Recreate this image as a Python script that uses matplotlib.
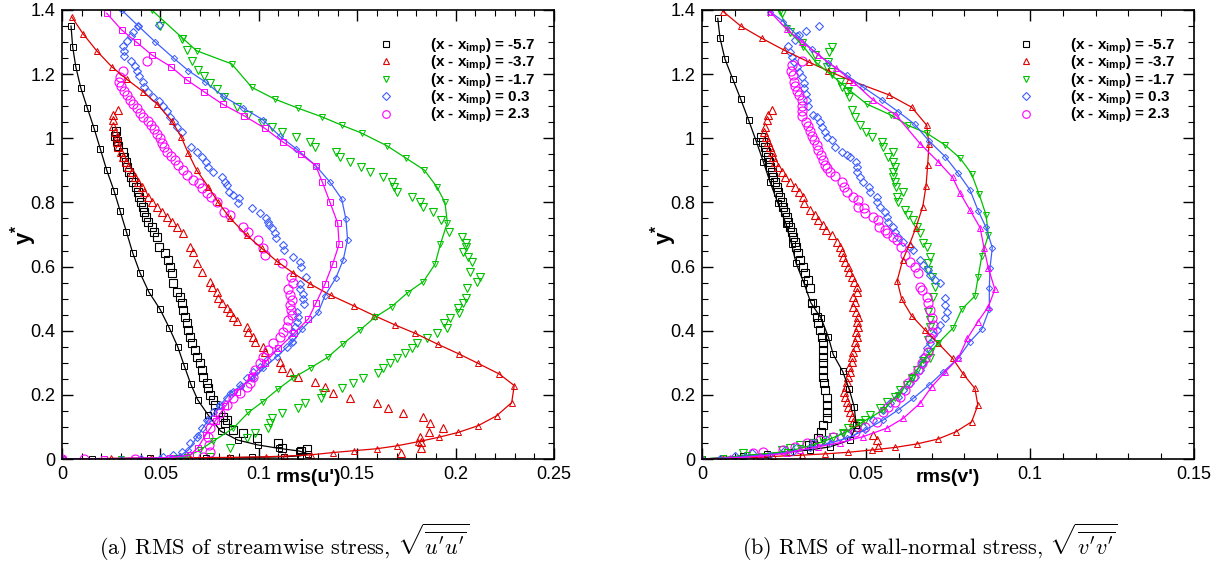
import matplotlib.pyplot as plt
from matplotlib.lines import Line2D
from matplotlib.ticker import MultipleLocator, FuncFormatter

plt.rcParams['font.family'] = ['Liberation Sans', 'DejaVu Sans']
plt.rcParams['mathtext.fontset'] = 'custom'
plt.rcParams['mathtext.rm'] = 'Liberation Sans:bold'
plt.rcParams['mathtext.it'] = 'Liberation Sans:bold'
plt.rcParams['mathtext.bf'] = 'Liberation Sans:bold'

cases = ['-5.7', '-3.7', '-1.7', '0.3', '2.3']
colors = ['#000000', '#e00000', '#00c000', '#3f5fff', '#ff00ff']

# ---------------- rms(u') : simulation (lines) ----------------
u_sim_x_57 = [0.0046, 0.0054, 0.0070, 0.0095, 0.0129, 0.0163, 0.0195, 0.0227, 0.0264, 0.0295, 0.0327, 0.0359,
              0.0396, 0.0441, 0.0498, 0.0545, 0.0588, 0.0621, 0.0654, 0.0690, 0.0743, 0.0806, 0.0893, 0.0994,
              0.1104, 0.1204, 0.1250, 0.1210, 0.1130, 0.0965, 0.0854, 0.0730, 0.0590, 0.0447, 0.0152, 0.0]
u_sim_y_57 = [1.350, 1.286, 1.223, 1.158, 1.094, 1.031, 0.966, 0.901, 0.837, 0.774, 0.709, 0.643,
              0.581, 0.521, 0.467, 0.409, 0.350, 0.291, 0.234, 0.184, 0.137, 0.087, 0.059, 0.044,
              0.033, 0.025, 0.016, 0.010, 0.007, 0.005, 0.004, 0.004, 0.003, 0.002, 0.001, 0.0]
u_sim_x_37 = [0.0049, 0.0108, 0.0176, 0.0253, 0.0329, 0.0413, 0.0484, 0.0557, 0.0605, 0.0642, 0.0684, 0.0743,
              0.0794, 0.0854, 0.0938, 0.1015, 0.1091, 0.1172, 0.1260, 0.1367, 0.1484, 0.1587, 0.1692, 0.1794,
              0.1909, 0.2019, 0.2115, 0.2222, 0.2298, 0.2285, 0.2209, 0.2115, 0.2014, 0.1916, 0.1810, 0.1701,
              0.1599, 0.1485, 0.1376, 0.1265, 0.1133, 0.1037, 0.085, 0.065, 0.045, 0.025, 0.0]
u_sim_y_37 = [1.379, 1.325, 1.273, 1.223, 1.184, 1.145, 1.106, 1.055, 1.005, 0.953, 0.901, 0.849,
              0.800, 0.751, 0.698, 0.657, 0.617, 0.581, 0.546, 0.510, 0.477, 0.447, 0.418, 0.392,
              0.358, 0.327, 0.298, 0.265, 0.229, 0.176, 0.135, 0.104, 0.083, 0.068, 0.054, 0.041,
              0.032, 0.026, 0.020, 0.013, 0.009, 0.007, 0.005, 0.004, 0.003, 0.002, 0.0]
u_sim_x_17 = [0.0456, 0.0613, 0.0684, 0.0862, 0.0964, 0.1082, 0.1199, 0.1320, 0.1421, 0.1523, 0.1650, 0.1748,
              0.1841, 0.1904, 0.1946, 0.1958, 0.1923, 0.1895, 0.1836, 0.1757, 0.1675, 0.1590, 0.1514, 0.1426,
              0.1350, 0.1265, 0.1174, 0.1096, 0.1021, 0.0947, 0.0870, 0.0769, 0.0701, 0.0634, 0.0566, 0.030, 0.0]
u_sim_y_17 = [1.400, 1.312, 1.273, 1.232, 1.159, 1.122, 1.094, 1.067, 1.041, 1.016, 0.977, 0.938,
              0.901, 0.849, 0.800, 0.737, 0.670, 0.607, 0.553, 0.519, 0.475, 0.442, 0.402, 0.358,
              0.317, 0.285, 0.253, 0.217, 0.179, 0.145, 0.096, 0.056, 0.028, 0.007, 0.002, 0.001, 0.0]
u_sim_x_03 = [0.0303, 0.0388, 0.0473, 0.0569, 0.0642, 0.0727, 0.0817, 0.0921, 0.1020, 0.1108, 0.1191, 0.1289,
              0.1362, 0.1421, 0.1443, 0.1451, 0.1429, 0.1392, 0.1336, 0.1302, 0.1218, 0.1172, 0.1091, 0.1023,
              0.0972, 0.0910, 0.0854, 0.0800, 0.0743, 0.0693, 0.0642, 0.0600, 0.0500, 0.0300, 0.0]
u_sim_y_03 = [1.400, 1.350, 1.301, 1.249, 1.211, 1.176, 1.132, 1.094, 1.058, 1.006, 0.967, 0.915,
              0.863, 0.811, 0.747, 0.684, 0.621, 0.565, 0.509, 0.457, 0.404, 0.365, 0.319, 0.283,
              0.252, 0.228, 0.205, 0.165, 0.122, 0.075, 0.028, 0.010, 0.003, 0.001, 0.0]
u_sim_x_23 = [0.0227, 0.0303, 0.0380, 0.0456, 0.0554, 0.0634, 0.0722, 0.0817, 0.0926, 0.1031, 0.1121, 0.1213,
              0.1289, 0.1323, 0.1362, 0.1401, 0.1408, 0.1375, 0.1336, 0.1291, 0.1252, 0.1180, 0.1100, 0.1030,
              0.0960, 0.0890, 0.0830, 0.0780, 0.0730, 0.0690, 0.0650, 0.0550, 0.0215, 0.0]
u_sim_y_23 = [1.390, 1.338, 1.299, 1.260, 1.223, 1.182, 1.145, 1.106, 1.070, 1.031, 0.989, 0.951,
              0.915, 0.863, 0.800, 0.735, 0.670, 0.607, 0.545, 0.487, 0.437, 0.392, 0.345, 0.300,
              0.255, 0.210, 0.165, 0.120, 0.075, 0.035, 0.012, 0.004, 0.001, 0.0]

# ---------------- rms(u') : experiment (symbols) ----------------
u_exp_x_57 = [0.0274, 0.0269, 0.0281, 0.0286, 0.0311, 0.0317, 0.0325, 0.0332, 0.0342, 0.0351, 0.0362, 0.0376,
              0.0385, 0.0393, 0.0400, 0.0410, 0.0418, 0.0427, 0.0439, 0.0456, 0.0467, 0.0481, 0.0494, 0.0523,
              0.0540, 0.0549, 0.0557, 0.0566, 0.0583, 0.0600, 0.0608, 0.0616, 0.0625, 0.0634, 0.0642, 0.0650,
              0.0659, 0.0676, 0.0684, 0.0701, 0.0710, 0.0718, 0.0735, 0.0743, 0.0752, 0.0769, 0.0777, 0.0794,
              0.0820, 0.0837, 0.0828, 0.0870, 0.0921, 0.0989, 0.1099, 0.1116, 0.1213, 0.1246]
u_exp_y_57 = [1.023, 1.007, 0.992, 0.977, 0.958, 0.943, 0.927, 0.911, 0.896, 0.880, 0.865, 0.849,
              0.833, 0.818, 0.802, 0.787, 0.771, 0.756, 0.740, 0.724, 0.709, 0.693, 0.662, 0.641,
              0.621, 0.600, 0.579, 0.548, 0.522, 0.506, 0.485, 0.465, 0.444, 0.423, 0.402, 0.381,
              0.361, 0.340, 0.319, 0.298, 0.278, 0.257, 0.236, 0.220, 0.200, 0.184, 0.168, 0.147,
              0.132, 0.122, 0.111, 0.090, 0.080, 0.065, 0.049, 0.033, 0.024, 0.031]
u_exp_x_37 = [0.0286, 0.0261, 0.0258, 0.0261, 0.0269, 0.0278, 0.0281, 0.0286, 0.0298, 0.0311, 0.0325, 0.0337,
              0.0354, 0.0371, 0.0388, 0.0405, 0.0418, 0.0439, 0.0456, 0.0481, 0.0507, 0.0532, 0.0557, 0.0583,
              0.0616, 0.0650, 0.0664, 0.0684, 0.0710, 0.0752, 0.0761, 0.0786, 0.0794, 0.0811, 0.0837, 0.0854,
              0.0870, 0.0888, 0.0938, 0.0947, 0.0972, 0.0981, 0.1023, 0.1031, 0.1108, 0.1116, 0.1159, 0.1201,
              0.1286, 0.1336, 0.1379, 0.1463, 0.1599, 0.1658, 0.1731, 0.1836, 0.1870, 0.1934, 0.1865, 0.1819,
              0.1823, 0.1823, 0.1723]
u_exp_y_37 = [1.088, 1.073, 1.057, 1.038, 1.021, 1.005, 0.989, 0.974, 0.958, 0.943, 0.927, 0.911,
              0.896, 0.880, 0.865, 0.849, 0.833, 0.818, 0.802, 0.787, 0.771, 0.756, 0.740, 0.724,
              0.704, 0.662, 0.646, 0.610, 0.584, 0.553, 0.537, 0.522, 0.501, 0.486, 0.470, 0.459,
              0.442, 0.431, 0.413, 0.397, 0.381, 0.366, 0.350, 0.335, 0.303, 0.285, 0.270, 0.255,
              0.239, 0.224, 0.207, 0.191, 0.176, 0.160, 0.144, 0.130, 0.113, 0.098, 0.083, 0.068,
              0.052, 0.033, 0.020]
u_exp_x_17 = [0.0498, 0.0608, 0.0634, 0.0659, 0.0693, 0.0723, 0.0752, 0.0786, 0.0825, 0.0888, 0.0947, 0.1015,
              0.1066, 0.1116, 0.1189, 0.1260, 0.1286, 0.1392, 0.1413, 0.1463, 0.1519, 0.1565, 0.1630, 0.1675,
              0.1687, 0.1701, 0.1777, 0.1819, 0.1836, 0.1884, 0.1924, 0.1968, 0.2031, 0.2053, 0.2053, 0.2039,
              0.2065, 0.2082, 0.2073, 0.2124, 0.2107, 0.2056, 0.2053, 0.2039, 0.2014, 0.2017, 0.1972, 0.1941,
              0.1955, 0.1904, 0.1853, 0.1802, 0.1777, 0.1743, 0.1701, 0.1667, 0.1633, 0.1604, 0.1531, 0.1480,
              0.1421, 0.1325, 0.1315, 0.1235, 0.1198, 0.1116, 0.1066, 0.1057, 0.1048, 0.0981, 0.0938, 0.0854,
              0.0752]
u_exp_y_17 = [1.350, 1.309, 1.275, 1.242, 1.213, 1.194, 1.173, 1.153, 1.130, 1.099, 1.073, 1.047,
              1.034, 1.019, 1.005, 0.989, 0.974, 0.956, 0.943, 0.925, 0.911, 0.894, 0.878, 0.865,
              0.849, 0.832, 0.816, 0.800, 0.785, 0.769, 0.745, 0.709, 0.691, 0.674, 0.660, 0.646,
              0.631, 0.613, 0.582, 0.568, 0.551, 0.534, 0.503, 0.487, 0.472, 0.456, 0.441, 0.425,
              0.409, 0.392, 0.376, 0.361, 0.345, 0.330, 0.314, 0.298, 0.283, 0.267, 0.252, 0.236,
              0.220, 0.205, 0.189, 0.174, 0.158, 0.143, 0.127, 0.111, 0.096, 0.080, 0.065, 0.033,
              0.007]
u_exp_x_03 = [0.0494, 0.0388, 0.0359, 0.0351, 0.0329, 0.0311, 0.0315, 0.0315, 0.0349, 0.0371, 0.0380, 0.0393,
              0.0410, 0.0418, 0.0435, 0.0464, 0.0494, 0.0512, 0.0532, 0.0549, 0.0569, 0.0583, 0.0608, 0.0654,
              0.0684, 0.0710, 0.0732, 0.0740, 0.0766, 0.0811, 0.0828, 0.0837, 0.0850, 0.0870, 0.0901, 0.0896,
              0.0964, 0.1006, 0.1035, 0.1048, 0.1053, 0.1066, 0.1082, 0.1087, 0.1124, 0.1130, 0.1175, 0.1209,
              0.1213, 0.1238, 0.1209, 0.1209, 0.1226, 0.1226, 0.1231, 0.1193, 0.1201, 0.1193, 0.1184, 0.1175,
              0.1167, 0.1167, 0.1142, 0.1091, 0.1040, 0.1006, 0.0972, 0.0938, 0.0904, 0.0870, 0.0837, 0.0803,
              0.0769, 0.0735, 0.0710, 0.0684, 0.0650, 0.0608, 0.0566, 0.0515, 0.0400]
u_exp_y_03 = [1.353, 1.350, 1.332, 1.319, 1.304, 1.288, 1.273, 1.257, 1.242, 1.226, 1.211, 1.194,
              1.176, 1.159, 1.145, 1.130, 1.117, 1.101, 1.085, 1.067, 1.052, 1.036, 1.021, 0.974,
              0.958, 0.943, 0.927, 0.911, 0.896, 0.880, 0.865, 0.854, 0.833, 0.823, 0.813, 0.797,
              0.782, 0.766, 0.751, 0.740, 0.730, 0.719, 0.704, 0.688, 0.667, 0.652, 0.629, 0.613,
              0.598, 0.567, 0.546, 0.529, 0.514, 0.498, 0.483, 0.459, 0.444, 0.428, 0.413, 0.397,
              0.381, 0.366, 0.350, 0.335, 0.309, 0.288, 0.272, 0.252, 0.231, 0.210, 0.189, 0.168,
              0.147, 0.122, 0.096, 0.070, 0.049, 0.023, 0.012, 0.005, 0.0]
u_exp_x_23 = [0.0430, 0.0311, 0.0295, 0.0291, 0.0298, 0.0315, 0.0329, 0.0346, 0.0362, 0.0380, 0.0396, 0.0413,
              0.0435, 0.0451, 0.0467, 0.0484, 0.0498, 0.0510, 0.0520, 0.0532, 0.0552, 0.0574, 0.0591, 0.0616,
              0.0637, 0.0667, 0.0698, 0.0710, 0.0735, 0.0756, 0.0786, 0.0823, 0.0854, 0.0918, 0.0947, 0.0997,
              0.1023, 0.1032, 0.1116, 0.1164, 0.1172, 0.1150, 0.1159, 0.1167, 0.1159, 0.1164, 0.1167, 0.1150,
              0.1142, 0.1124, 0.1108, 0.1074, 0.1048, 0.1023, 0.1006, 0.0981, 0.0972, 0.0955, 0.0938, 0.0904,
              0.0870, 0.0837, 0.0803, 0.0769, 0.0752, 0.0743, 0.0748, 0.0752, 0.0718, 0.0371, 0.0113, 0.0]
u_exp_y_23 = [1.241, 1.210, 1.192, 1.176, 1.163, 1.148, 1.135, 1.119, 1.107, 1.094, 1.080, 1.067,
              1.055, 1.041, 1.028, 1.013, 1.000, 0.986, 0.974, 0.958, 0.945, 0.932, 0.917, 0.901,
              0.886, 0.870, 0.860, 0.844, 0.829, 0.816, 0.800, 0.771, 0.761, 0.724, 0.709, 0.683,
              0.657, 0.636, 0.610, 0.567, 0.548, 0.529, 0.511, 0.496, 0.480, 0.465, 0.449, 0.433,
              0.413, 0.397, 0.381, 0.361, 0.340, 0.319, 0.298, 0.278, 0.257, 0.236, 0.225, 0.205,
              0.189, 0.168, 0.143, 0.122, 0.096, 0.070, 0.044, 0.023, 0.007, 0.0, 0.0, 0.0]

# ---------------- rms(v') : simulation (lines) ----------------
v_sim_x_57 = [0.0048, 0.0055, 0.0070, 0.0094, 0.0118, 0.0142, 0.0165, 0.0187, 0.0207, 0.0231, 0.0256, 0.0273,
              0.0287, 0.0311, 0.0332, 0.0363, 0.0385, 0.0400, 0.0429, 0.0449, 0.0464, 0.0470, 0.0451, 0.0390,
              0.0329, 0.0268, 0.0197, 0.0126, 0.0065, 0.0]
v_sim_y_57 = [1.374, 1.312, 1.247, 1.184, 1.122, 1.057, 0.992, 0.927, 0.865, 0.799, 0.733, 0.670,
              0.610, 0.548, 0.487, 0.439, 0.381, 0.326, 0.273, 0.217, 0.163, 0.106, 0.059, 0.038,
              0.028, 0.023, 0.016, 0.010, 0.004, 0.0]
v_sim_x_37 = [0.0065, 0.0118, 0.0182, 0.0250, 0.0327, 0.0383, 0.0449, 0.0571, 0.0639, 0.0685, 0.0692, 0.0688,
              0.0683, 0.0673, 0.0652, 0.0633, 0.0612, 0.0595, 0.0609, 0.0639, 0.0680, 0.0720, 0.0764, 0.0797,
              0.0832, 0.0841, 0.0822, 0.0774, 0.0719, 0.0655, 0.0588, 0.0517, 0.0446, 0.0375, 0.0304, 0.0217,
              0.0162, 0.0065, 0.0]
v_sim_y_37 = [1.395, 1.350, 1.312, 1.275, 1.237, 1.211, 1.182, 1.135, 1.097, 1.041, 0.981, 0.917,
              0.851, 0.787, 0.721, 0.670, 0.621, 0.556, 0.498, 0.447, 0.402, 0.361, 0.314, 0.264,
              0.220, 0.168, 0.116, 0.085, 0.062, 0.047, 0.036, 0.028, 0.021, 0.016, 0.012, 0.008,
              0.004, 0.002, 0.0]
v_sim_x_17 = [0.0238, 0.0258, 0.0309, 0.0350, 0.0395, 0.0448, 0.0502, 0.0575, 0.0629, 0.0685, 0.0741, 0.0787,
              0.0822, 0.0845, 0.0866, 0.0873, 0.0853, 0.0842, 0.0832, 0.0792, 0.0766, 0.0720, 0.0675, 0.0639,
              0.0598, 0.0553, 0.0482, 0.0431, 0.0370, 0.0299, 0.0258, 0.0136, 0.0065, 0.0]
v_sim_y_17 = [1.395, 1.343, 1.286, 1.234, 1.197, 1.151, 1.107, 1.073, 1.040, 1.016, 0.979, 0.938,
              0.889, 0.825, 0.761, 0.698, 0.633, 0.568, 0.508, 0.467, 0.409, 0.361, 0.309, 0.252,
              0.200, 0.153, 0.111, 0.080, 0.054, 0.033, 0.023, 0.011, 0.004, 0.0]
v_sim_x_03 = [0.0207, 0.0248, 0.0289, 0.0334, 0.0385, 0.0441, 0.0492, 0.0548, 0.0598, 0.0648, 0.0691, 0.0741,
              0.0781, 0.0817, 0.0842, 0.0866, 0.0885, 0.0878, 0.0876, 0.0876, 0.0853, 0.0817, 0.0781, 0.0736,
              0.0693, 0.0644, 0.0598, 0.0553, 0.0497, 0.0441, 0.0390, 0.0329, 0.0278, 0.0207, 0.0131, 0.0055, 0.0]
v_sim_y_03 = [1.395, 1.364, 1.322, 1.278, 1.236, 1.197, 1.159, 1.120, 1.083, 1.044, 0.993, 0.943,
              0.891, 0.839, 0.774, 0.722, 0.659, 0.595, 0.532, 0.467, 0.405, 0.366, 0.314, 0.272,
              0.231, 0.189, 0.153, 0.122, 0.090, 0.065, 0.049, 0.033, 0.023, 0.014, 0.008, 0.002, 0.0]
v_sim_x_23 = [0.0207, 0.0258, 0.0304, 0.0355, 0.0409, 0.0461, 0.0522, 0.0591, 0.0666, 0.0720, 0.0764, 0.0787,
              0.0817, 0.0848, 0.0860, 0.0873, 0.0893, 0.0873, 0.0841, 0.0809, 0.0781, 0.0741, 0.0700, 0.0665,
              0.0614, 0.0563, 0.0492, 0.0421, 0.0355, 0.0299, 0.0258, 0.0177, 0.0085, 0.0]
v_sim_y_23 = [1.395, 1.340, 1.301, 1.260, 1.218, 1.176, 1.119, 1.073, 0.982, 0.927, 0.878, 0.829,
              0.776, 0.721, 0.657, 0.595, 0.529, 0.475, 0.428, 0.376, 0.314, 0.271, 0.225, 0.174,
              0.127, 0.096, 0.070, 0.051, 0.038, 0.028, 0.018, 0.009, 0.003, 0.0]

# ---------------- rms(v') : experiment (symbols) ----------------
v_exp_x_57 = [0.0179, 0.0185, 0.0192, 0.0195, 0.0202, 0.0205, 0.0207, 0.0213, 0.0217, 0.0223, 0.0228, 0.0233,
              0.0238, 0.0243, 0.0248, 0.0253, 0.0258, 0.0263, 0.0268, 0.0273, 0.0278, 0.0284, 0.0287, 0.0294,
              0.0299, 0.0307, 0.0314, 0.0324, 0.0329, 0.0334, 0.0345, 0.0350, 0.0355, 0.0360, 0.0365, 0.0368,
              0.0370, 0.0370, 0.0370, 0.0368, 0.0368, 0.0372, 0.0375, 0.0380, 0.0380, 0.0380, 0.0380, 0.0370,
              0.0362, 0.0355, 0.0339, 0.0327]
v_exp_y_57 = [1.005, 0.989, 0.974, 0.958, 0.943, 0.927, 0.911, 0.896, 0.880, 0.865, 0.849, 0.833,
              0.818, 0.802, 0.787, 0.771, 0.756, 0.740, 0.724, 0.709, 0.693, 0.678, 0.662, 0.641,
              0.621, 0.600, 0.579, 0.558, 0.533, 0.485, 0.465, 0.444, 0.423, 0.402, 0.381, 0.361,
              0.340, 0.319, 0.298, 0.278, 0.257, 0.236, 0.215, 0.189, 0.168, 0.147, 0.127, 0.106,
              0.085, 0.065, 0.049, 0.044]
v_exp_x_37 = [0.0214, 0.0202, 0.0197, 0.0192, 0.0189, 0.0195, 0.0202, 0.0207, 0.0213, 0.0217, 0.0223, 0.0233,
              0.0243, 0.0253, 0.0268, 0.0284, 0.0297, 0.0307, 0.0312, 0.0329, 0.0345, 0.0355, 0.0368, 0.0378,
              0.0395, 0.0413, 0.0421, 0.0426, 0.0431, 0.0436, 0.0446, 0.0449, 0.0456, 0.0464, 0.0472, 0.0473,
              0.0461, 0.0466, 0.0461, 0.0470, 0.0477, 0.0472, 0.0477, 0.0470, 0.0472, 0.0466, 0.0470, 0.0461,
              0.0456, 0.0456, 0.0449, 0.0451, 0.0446, 0.0441, 0.0439, 0.0433, 0.0436, 0.0441, 0.0446, 0.0451,
              0.0456, 0.0461, 0.0472, 0.0522, 0.0533, 0.0538]
v_exp_y_37 = [1.088, 1.073, 1.057, 1.036, 1.021, 1.005, 0.989, 0.974, 0.958, 0.943, 0.927, 0.911,
              0.896, 0.880, 0.865, 0.849, 0.833, 0.818, 0.797, 0.776, 0.761, 0.745, 0.730, 0.714,
              0.698, 0.678, 0.662, 0.646, 0.631, 0.615, 0.600, 0.584, 0.568, 0.553, 0.537, 0.522,
              0.506, 0.490, 0.475, 0.459, 0.444, 0.428, 0.413, 0.397, 0.381, 0.366, 0.350, 0.335,
              0.319, 0.303, 0.288, 0.272, 0.257, 0.241, 0.225, 0.210, 0.194, 0.179, 0.163, 0.147,
              0.132, 0.116, 0.101, 0.075, 0.059, 0.038]
v_exp_x_17 = [0.0243, 0.0268, 0.0304, 0.0345, 0.0380, 0.0395, 0.0388, 0.0385, 0.0395, 0.0421, 0.0426, 0.0441,
              0.0449, 0.0456, 0.0466, 0.0482, 0.0500, 0.0517, 0.0548, 0.0553, 0.0583, 0.0568, 0.0583, 0.0588,
              0.0583, 0.0583, 0.0588, 0.0591, 0.0614, 0.0594, 0.0598, 0.0619, 0.0629, 0.0644, 0.0655, 0.0665,
              0.0675, 0.0685, 0.0695, 0.0690, 0.0690, 0.0700, 0.0710, 0.0705, 0.0690, 0.0695, 0.0695, 0.0690,
              0.0695, 0.0695, 0.0675, 0.0655, 0.0639, 0.0624, 0.0604, 0.0588, 0.0563, 0.0543, 0.0512, 0.0497,
              0.0482, 0.0446, 0.0431, 0.0400, 0.0370, 0.0339, 0.0299, 0.0268, 0.0243, 0.0126]
v_exp_y_17 = [1.390, 1.332, 1.296, 1.260, 1.223, 1.286, 1.270, 1.239, 1.208, 1.176, 1.161, 1.145,
              1.130, 1.088, 1.067, 1.041, 1.021, 1.005, 0.989, 0.974, 0.958, 0.943, 0.927, 0.911,
              0.896, 0.880, 0.865, 0.849, 0.833, 0.818, 0.802, 0.776, 0.761, 0.745, 0.724, 0.704,
              0.673, 0.662, 0.631, 0.610, 0.589, 0.568, 0.537, 0.506, 0.459, 0.433, 0.413, 0.371,
              0.335, 0.314, 0.293, 0.278, 0.252, 0.231, 0.215, 0.194, 0.179, 0.158, 0.137, 0.122,
              0.111, 0.096, 0.080, 0.070, 0.059, 0.049, 0.044, 0.033, 0.028, 0.018]
v_exp_x_03 = [0.0358, 0.0317, 0.0297, 0.0284, 0.0263, 0.0268, 0.0273, 0.0280, 0.0289, 0.0297, 0.0304, 0.0311,
              0.0312, 0.0316, 0.0319, 0.0324, 0.0339, 0.0350, 0.0360, 0.0365, 0.0375, 0.0380, 0.0395, 0.0405,
              0.0426, 0.0441, 0.0451, 0.0470, 0.0472, 0.0472, 0.0482, 0.0492, 0.0510, 0.0512, 0.0533, 0.0533,
              0.0543, 0.0558, 0.0563, 0.0568, 0.0583, 0.0588, 0.0598, 0.0614, 0.0634, 0.0644, 0.0665, 0.0675,
              0.0690, 0.0695, 0.0710, 0.0726, 0.0741, 0.0741, 0.0746, 0.0741, 0.0726, 0.0716, 0.0705, 0.0695,
              0.0685, 0.0675, 0.0670, 0.0665, 0.0649, 0.0634, 0.0614, 0.0598, 0.0573, 0.0553, 0.0522, 0.0492,
              0.0461, 0.0421, 0.0380, 0.0339, 0.0289, 0.0253, 0.0152, 0.0100]
v_exp_y_03 = [1.350, 1.336, 1.322, 1.307, 1.289, 1.270, 1.254, 1.239, 1.223, 1.208, 1.190, 1.173,
              1.156, 1.138, 1.119, 1.101, 1.073, 1.067, 1.052, 1.036, 1.021, 1.005, 0.995, 0.974,
              0.958, 0.948, 0.943, 0.927, 0.911, 0.896, 0.880, 0.865, 0.849, 0.833, 0.818, 0.802,
              0.787, 0.771, 0.756, 0.740, 0.724, 0.709, 0.693, 0.678, 0.662, 0.652, 0.621, 0.605,
              0.589, 0.574, 0.558, 0.548, 0.501, 0.480, 0.459, 0.439, 0.418, 0.402, 0.387, 0.361,
              0.345, 0.319, 0.298, 0.278, 0.257, 0.236, 0.215, 0.194, 0.174, 0.153, 0.122, 0.101,
              0.085, 0.070, 0.059, 0.049, 0.038, 0.028, 0.019, 0.009]
v_exp_x_23 = [0.0304, 0.0273, 0.0270, 0.0278, 0.0280, 0.0284, 0.0289, 0.0297, 0.0304, 0.0306, 0.0306, 0.0304,
              0.0316, 0.0324, 0.0329, 0.0336, 0.0341, 0.0350, 0.0355, 0.0363, 0.0368, 0.0375, 0.0382, 0.0390,
              0.0405, 0.0426, 0.0433, 0.0443, 0.0461, 0.0477, 0.0477, 0.0495, 0.0497, 0.0522, 0.0538, 0.0541,
              0.0558, 0.0563, 0.0583, 0.0594, 0.0607, 0.0619, 0.0634, 0.0649, 0.0660, 0.0665, 0.0670, 0.0685,
              0.0690, 0.0695, 0.0700, 0.0705, 0.0700, 0.0695, 0.0690, 0.0680, 0.0670, 0.0660, 0.0644, 0.0629,
              0.0619, 0.0604, 0.0588, 0.0568, 0.0553, 0.0533, 0.0497, 0.0466, 0.0441, 0.0400, 0.0360, 0.0319,
              0.0284, 0.0248, 0.0187, 0.0156]
v_exp_y_23 = [1.241, 1.229, 1.210, 1.197, 1.176, 1.163, 1.148, 1.135, 1.119, 1.101, 1.086, 1.070,
              1.052, 1.038, 1.023, 1.007, 0.995, 0.979, 0.964, 0.948, 0.932, 0.917, 0.906, 0.896,
              0.882, 0.865, 0.849, 0.833, 0.818, 0.808, 0.787, 0.782, 0.766, 0.756, 0.745, 0.724,
              0.714, 0.704, 0.693, 0.683, 0.662, 0.636, 0.615, 0.600, 0.579, 0.537, 0.527, 0.506,
              0.485, 0.465, 0.439, 0.418, 0.397, 0.376, 0.335, 0.314, 0.298, 0.278, 0.257, 0.236,
              0.215, 0.194, 0.179, 0.163, 0.147, 0.116, 0.101, 0.085, 0.078, 0.070, 0.059, 0.049,
              0.038, 0.028, 0.023, 0.018]

u_sim = [(u_sim_x_57, u_sim_y_57), (u_sim_x_37, u_sim_y_37), (u_sim_x_17, u_sim_y_17),
         (u_sim_x_03, u_sim_y_03), (u_sim_x_23, u_sim_y_23)]
u_exp = [(u_exp_x_57, u_exp_y_57), (u_exp_x_37, u_exp_y_37), (u_exp_x_17, u_exp_y_17),
         (u_exp_x_03, u_exp_y_03), (u_exp_x_23, u_exp_y_23)]
v_sim = [(v_sim_x_57, v_sim_y_57), (v_sim_x_37, v_sim_y_37), (v_sim_x_17, v_sim_y_17),
         (v_sim_x_03, v_sim_y_03), (v_sim_x_23, v_sim_y_23)]
v_exp = [(v_exp_x_57, v_exp_y_57), (v_exp_x_37, v_exp_y_37), (v_exp_x_17, v_exp_y_17),
         (v_exp_x_03, v_exp_y_03), (v_exp_x_23, v_exp_y_23)]

exp_markers = ['s', '^', 'v', 'D', 'o']
sim_markers_u = ['s', '^', 'v', 'D', 's']
sim_markers_v = ['s', '^', 'v', 'D', '^']
legend_markers = ['s', '^', 'v', 'D', 'o']

fig = plt.figure(figsize=(12.24, 5.63), dpi=100)
ax1 = fig.add_axes([62 / 1224, 104 / 563, 492 / 1224, 449 / 563])
ax2 = fig.add_axes([702 / 1224, 104 / 563, 492 / 1224, 449 / 563])


def draw(ax, sim, exp, sim_markers, xmax, xlabel):
    for i in range(5):
        ex, ey = exp[i]
        ms = 6.5 if exp_markers[i] == 'o' else 5.5
        if exp_markers[i] == 'D':
            ms = 4.5
        ax.plot(ex, ey, ls='none', marker=exp_markers[i], ms=ms, mfc='none',
                mec=colors[i], mew=0.8)
    for i in range(5):
        sx, sy = sim[i]
        ms = 3.2 if sim_markers[i] == 'D' else 4
        ax.plot(sx, sy, color=colors[i], lw=0.9, marker=sim_markers[i], ms=ms,
                mfc='none', mec=colors[i], mew=0.7)

    ax.set_xlim(0, xmax)
    ax.set_ylim(0, 1.4)
    ax.xaxis.set_major_locator(MultipleLocator(0.05))
    ax.xaxis.set_minor_locator(MultipleLocator(0.01))
    ax.yaxis.set_major_locator(MultipleLocator(0.2))
    ax.yaxis.set_minor_locator(MultipleLocator(0.05))
    fmt = FuncFormatter(lambda v, p: '%g' % round(v, 4))
    ax.xaxis.set_major_formatter(fmt)
    ax.yaxis.set_major_formatter(fmt)
    ax.tick_params(which='both', direction='in', top=True, right=True, labelsize=13)
    ax.tick_params(which='major', length=8, width=1.0, pad=5)
    ax.tick_params(which='minor', length=4, width=0.8)
    for s in ax.spines.values():
        s.set_linewidth(1.2)

    ax.set_xlabel(xlabel, fontsize=14, fontweight='bold')
    ax.xaxis.set_label_coords(0.5, -0.022)
    ax.set_ylabel('y$^{*}$', fontsize=16, fontweight='bold')
    ax.yaxis.set_label_coords(-0.047, 0.5)

    handles = []
    for i in range(5):
        handles.append(Line2D([], [], ls='none', marker=legend_markers[i],
                              ms=5.5 if legend_markers[i] == 'o' else 4.5,
                              mfc='none', mec=colors[i], mew=0.8))
    labels = ['(x - x$_{imp}$) = ' + c for c in cases]
    ax.legend(handles, labels, loc='upper right', bbox_to_anchor=(0.99, 0.972),
              frameon=False, prop={'weight': 'bold', 'size': 11},
              handlelength=1.0, handletextpad=2.4, labelspacing=-0.12)


draw(ax1, u_sim, u_exp, sim_markers_u, 0.25, "rms(u')")
draw(ax2, v_sim, v_exp, sim_markers_v, 0.15, "rms(v')")

fig.text(284 / 1224, 0.036, r"(a) RMS of streamwise stress, $\sqrt{\overline{u'u'}}$",
         ha='center', va='center', fontsize=16, family=['cmr10', 'DejaVu Serif'],
         math_fontfamily='cm')
fig.text(930 / 1224, 0.036, r"(b) RMS of wall-normal stress, $\sqrt{\overline{v'v'}}$",
         ha='center', va='center', fontsize=16, family=['cmr10', 'DejaVu Serif'],
         math_fontfamily='cm')

fig.savefig('out.png', dpi=100)
